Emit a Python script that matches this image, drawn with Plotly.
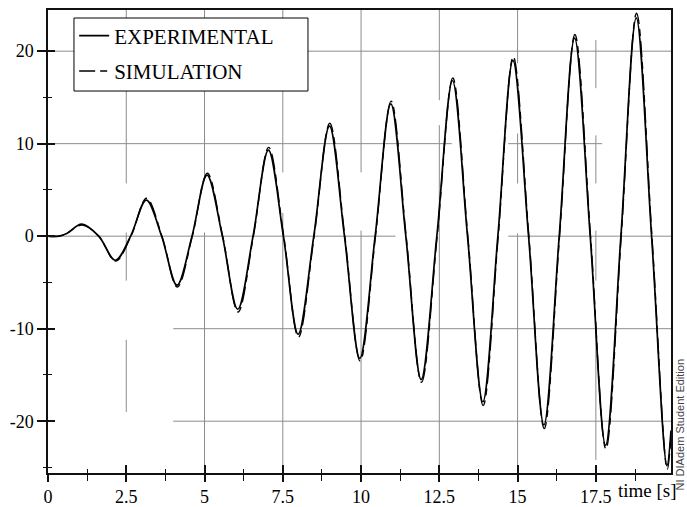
import plotly.graph_objects as go

# ---- data ----
t_exp = [0, 0.35, 0.6, 1.08, 1.62, 2.15, 2.64, 3.14, 3.63, 4.12, 4.6, 5.08, 5.57, 6.06,
         6.55, 7.04, 7.52, 7.99, 8.49, 8.99, 9.47, 9.96, 10.45, 10.95, 11.43, 11.92,
         12.42, 12.92, 13.4, 13.89, 14.37, 14.85, 15.35, 15.84, 16.33, 16.82, 17.32,
         17.81, 18.3, 18.79, 19.28, 19.77, 19.9]
v_exp = [0, 0, 0.3, 1.3, 0, -2.6, 0, 3.9, 0, -5.3, 0, 6.6, 0, -7.9,
         0, 9.3, 0, -10.6, 0, 11.9, 0, -13.2, 0, 14.3, 0, -15.5,
         0, 16.8, 0, -17.9, 0, 19.0, 0, -20.4, 0, 21.4, 0, -22.6,
         0, 23.6, 0, -24.8, -21.0]

t_sim = [0, 0.35, 0.6, 1.09, 1.62, 2.16, 2.65, 3.15, 3.64, 4.13, 4.61, 5.09, 5.58, 6.07,
         6.56, 7.05, 7.53, 8.0, 8.5, 9.0, 9.48, 9.97, 10.46, 10.96, 11.44, 11.93,
         12.43, 12.93, 13.41, 13.9, 14.38, 14.86, 15.36, 15.85, 16.34, 16.83, 17.33,
         17.82, 18.31, 18.8, 19.29, 19.78, 19.9]
v_sim = [0, 0, 0.3, 1.2, 0, -2.7, 0, 4.1, 0, -5.5, 0, 6.8, 0, -8.2,
         0, 9.6, 0, -10.9, 0, 12.2, 0, -13.5, 0, 14.6, 0, -15.8,
         0, 17.1, 0, -18.3, 0, 19.4, 0, -20.8, 0, 21.8, 0, -23.0,
         0, 24.1, 0, -25.2, -21.5]

series_names = ["EXPERIMENTAL", "SIMULATION"]

x_major = [0, 2.5, 5, 7.5, 10, 12.5, 15, 17.5]
x_major_text = ["0", "2.5", "5", "7.5", "10", "12.5", "15", "17.5"]
x_minor = [1.25, 3.75, 6.25, 8.75, 11.25, 13.75, 16.25, 18.75]
y_major = [-20, -10, 0, 10, 20]
y_major_text = ["-20", "-10", "0", "10", "20"]
y_minor = [-25, -15, -5, 5, 15]

X_RANGE = [0, 19.9]
Y_RANGE = [-25.6, 24.45]

# broken grid segments (as drawn in the reference)
h_grid = [(20, 0, 19.9), (10, 0, 12.9), (10, 14.7, 17.7), (0, 0, 11.1), (0, 14.7, 19.9),
          (-10, 4.0, 19.9), (-20, 4.0, 19.9)]
v_grid = [(2.5, 5.7, 24.45), (2.5, -4.8, 0.4), (2.5, -19.0, -11.2),
          (5, 6.4, 24.45), (5, -25.6, 0.4),
          (7.5, 6.9, 24.45), (7.5, -25.6, 2.5),
          (10, 6.9, 24.45), (10, -25.6, 0.6),
          (12.5, 14.7, 24.45), (12.5, -25.6, 12.0),
          (15, 18.7, 24.45), (15, 5.7, 11.1), (15, -25.6, 0.3),
          (17.5, 16.0, 21.2), (17.5, 5.7, 10.9), (17.5, -4.8, 0.6), (17.5, -24.2, -9.8)]

GRID = "#8c8c8c"
SERIF = "'Liberation Serif', 'Times New Roman', 'DejaVu Serif', serif"

fig = go.Figure()
fig.add_trace(go.Scatter(x=t_exp, y=v_exp, mode="lines", name=series_names[0],
                         line=dict(color="black", width=1.7, shape="spline", smoothing=1.0),
                         legendgroup="a"))
fig.add_trace(go.Scatter(x=t_sim, y=v_sim, mode="lines", name=series_names[1],
                         line=dict(color="black", width=1.4, shape="spline", smoothing=1.0,
                                   dash="16px,5px,7px,5px"),
                         legendgroup="b"))
# empty trace to activate overlay axes (inside half of crossing ticks)
fig.add_trace(go.Scatter(x=[], y=[], xaxis="x2", yaxis="y2", showlegend=False, hoverinfo="skip"))

shapes = []
for y, x0, x1 in h_grid:
    shapes.append(dict(type="line", xref="x", yref="y", x0=x0, x1=x1, y0=y, y1=y,
                       line=dict(color=GRID, width=1), layer="below"))
for x, y0, y1 in v_grid:
    shapes.append(dict(type="line", xref="x", yref="y", x0=x, x1=x, y0=y0, y1=y1,
                       line=dict(color=GRID, width=1), layer="below"))
# legend frame (white box covering the grid)
shapes.append(dict(type="rect", xref="paper", yref="paper", x0=0.0417, x1=0.4173,
                   y0=0.825, y1=0.9827, fillcolor="white",
                   line=dict(color="black", width=1), layer="above"))

fig.update_layout(
    template="none",
    width=687, height=507,
    margin=dict(l=48, r=16, t=10, b=34, autoexpand=False),
    paper_bgcolor="white", plot_bgcolor="white",
    font=dict(family=SERIF, size=18, color="black"),
    showlegend=True,
    legend=dict(x=0.042, y=0.988, xanchor="left", yanchor="top",
                bgcolor="rgba(0,0,0,0)", borderwidth=0,
                font=dict(family=SERIF, size=21, color="black"),
                tracegroupgap=5, itemwidth=30),
    xaxis=dict(range=X_RANGE, showgrid=False, zeroline=False, automargin=False,
               showline=True, linecolor="#111", linewidth=1.5, mirror=True,
               tickmode="array", tickvals=x_major, ticktext=x_major_text,
               ticks="outside", ticklen=7, tickwidth=1.5, tickcolor="#111",
               minor=dict(tickmode="array", tickvals=x_minor, ticks="outside",
                          ticklen=6, tickwidth=1.2, tickcolor="#111", showgrid=False),
               tickfont=dict(family=SERIF, size=18)),
    yaxis=dict(range=Y_RANGE, showgrid=False, zeroline=False, automargin=False,
               showline=True, linecolor="#111", linewidth=1.5, mirror=True,
               tickmode="array", tickvals=y_major, ticktext=y_major_text,
               ticks="outside", ticklen=9, tickwidth=1.5, tickcolor="#111",
               minor=dict(tickmode="array", tickvals=y_minor, ticks="outside",
                          ticklen=3, tickwidth=1.2, tickcolor="#111", showgrid=False),
               tickfont=dict(family=SERIF, size=18)),
    xaxis2=dict(range=X_RANGE, overlaying="x", anchor="y2", side="bottom", automargin=False,
                showgrid=False, zeroline=False, showline=False, showticklabels=False,
                tickmode="array", tickvals=x_major, ticks="inside", ticklen=8,
                tickwidth=1.5, tickcolor="#111",
                minor=dict(tickmode="array", tickvals=x_minor, ticks="inside",
                           ticklen=4, tickwidth=1.2, tickcolor="#111")),
    yaxis2=dict(range=Y_RANGE, overlaying="y", anchor="x2", side="left", automargin=False,
                showgrid=False, zeroline=False, showline=False, showticklabels=False,
                tickmode="array", tickvals=y_major, ticks="inside", ticklen=7,
                tickwidth=1.5, tickcolor="#111",
                minor=dict(tickmode="array", tickvals=y_minor, ticks="inside",
                           ticklen=4, tickwidth=1.2, tickcolor="#111")),
    shapes=shapes,
    annotations=[
        dict(text="time [s]", xref="paper", yref="paper", x=0.912, y=-0.037,
             xanchor="left", yanchor="middle", showarrow=False,
             font=dict(family=SERIF, size=19, color="black")),
        dict(text="NI DIAdem Student Edition", xref="paper", yref="paper",
             x=1.0145, y=-0.043, xanchor="center", yanchor="bottom", textangle=-90,
             showarrow=False, font=dict(family="Liberation Sans, Arial, sans-serif",
                                        size=11, color="#444")),
    ],
)

fig.write_html("out.html")
